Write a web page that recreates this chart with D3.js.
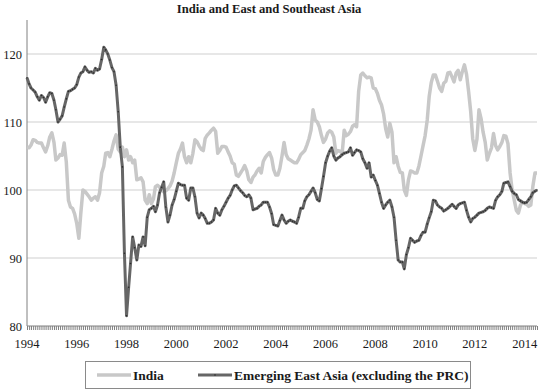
<!DOCTYPE html>
<head>
<style>
body { margin: 0; background: #fff; }
text { font-family: "Liberation Serif", "Times New Roman", serif; fill: #1a1a1a; }
.grid line { stroke: #cfcfcf; stroke-width: 1px; }
.india { fill: none; stroke: #c8c8c8; stroke-width: 3.5px; stroke-linejoin: round; }
.ea { fill: none; stroke: #666; stroke-width: 3px; stroke-linejoin: round; }
</style>
<meta charset="utf-8">
<title></title>
</head>
<body>
<script src="https://cdn.jsdelivr.net/npm/d3@7"></script>
<script>

// monthly index values, Jan 1994 - Jul 2014
var startYear = 1994;

var india = [
  106.3, 106.2, 106.6, 107.4, 107.3, 107.0, 106.9, 106.9, 106.2, 105.6, 106.5, 107.8,
  108.4, 107.0, 104.4, 104.7, 105.2, 105.1, 106.9, 104.1, 98.5, 97.5, 97.3, 96.5,
  95.1, 92.9, 96.6, 100.0, 99.8, 99.4, 99.0, 98.5, 98.8, 99.0, 98.5, 99.6,
  102.5, 103.5, 105.4, 105.5, 104.9, 106.0, 107.2, 108.1, 106.0, 105.6, 106.3, 104.9,
  105.9, 104.4, 104.9, 104.0, 104.4, 101.5, 101.6, 101.8, 101.2, 98.5, 98.0, 99.3,
  98.0, 98.7, 100.5, 100.7, 100.4, 100.1, 99.7, 99.9, 100.2, 100.6, 101.3, 102.5,
  104.0, 105.4, 106.0, 106.9, 104.9, 104.0, 104.9, 104.0, 105.4, 107.4, 107.1, 106.5,
  106.0, 105.8, 107.6, 108.1, 108.4, 108.8, 109.1, 108.6, 105.4, 105.8, 106.4, 106.4,
  106.3, 105.6, 105.0, 104.0, 103.8, 102.2, 102.0, 102.5, 103.0, 103.6, 102.8, 101.5,
  101.1, 101.9, 102.2, 102.8, 103.2, 102.5, 104.2, 104.8, 105.2, 105.5, 104.7, 103.0,
  102.2, 102.2, 103.2, 105.0, 107.0, 105.2, 104.6, 104.4, 104.2, 104.0, 104.0, 104.5,
  105.2, 105.5, 105.8, 106.6, 107.5, 108.8, 111.8, 110.3, 110.0, 109.3, 108.0, 107.0,
  107.5, 108.4, 108.7, 108.5, 107.8, 105.4, 105.8, 105.7, 105.4, 108.8, 108.0, 108.2,
  108.6, 109.4, 109.6, 109.3, 114.5, 116.9, 117.2, 116.8, 116.5, 116.6, 116.5, 115.0,
  114.9, 114.2, 113.2, 112.5, 111.2, 109.0, 107.8, 109.8, 108.5, 104.0, 104.9, 103.5,
  102.6, 102.5, 100.0, 99.2, 101.5, 102.8, 102.7, 102.5, 102.5, 103.5, 105.0, 106.5,
  108.0, 110.3, 113.7, 115.8, 116.9, 116.9, 116.0, 115.0, 114.5, 115.7, 116.0, 117.2,
  117.3, 116.6, 115.9, 117.2, 117.6, 116.2, 117.4, 118.4, 117.0, 114.5, 111.5, 107.5,
  105.8, 107.5, 111.8, 110.5, 108.5, 107.0, 104.4, 105.4, 106.2, 108.3, 106.5, 105.9,
  106.4, 107.0, 108.0, 107.9, 106.8, 102.5, 100.0, 98.5, 97.0, 96.6, 97.8, 98.2,
  98.0, 97.9, 97.6, 97.8, 100.5, 102.5, 102.5
];

var eastAsia = [
  116.5, 115.6, 115.0, 114.7, 114.4, 113.7, 113.2, 113.9, 113.6, 112.9, 113.7, 114.3,
  114.2, 113.2, 111.8, 110.0, 110.4, 110.9, 112.2, 113.4, 114.5, 114.6, 114.8, 115.0,
  115.5, 116.6, 117.2, 117.4, 118.1, 117.6, 117.3, 117.4, 117.2, 117.9, 117.6, 117.8,
  119.2, 121.0, 120.6, 120.0, 119.1, 118.0, 117.4, 115.4, 111.5, 106.3, 103.4, 90.7,
  81.5, 85.7, 89.2, 93.1, 91.5, 89.7, 91.9, 91.7, 93.1, 91.8, 96.0, 97.1,
  97.3, 97.6, 96.8, 97.8, 99.6, 100.4, 101.2, 97.5, 95.3, 96.3, 97.8, 98.6,
  99.8, 101.0, 100.8, 100.7, 100.7, 98.8, 98.5, 100.3, 100.3, 99.0, 96.6, 95.9,
  96.6, 96.3, 95.8, 95.1, 95.1, 95.3, 95.6, 97.3, 96.6, 96.3, 97.1, 97.6,
  98.2, 98.8, 99.2, 100.0, 100.6, 100.7, 100.3, 99.9, 99.6, 99.2, 99.0, 99.3,
  98.8, 97.1, 97.2, 97.3, 97.6, 97.8, 98.2, 98.2, 98.2, 97.5, 96.5, 94.9,
  94.8, 94.7, 95.5, 96.3, 95.6, 95.1, 95.4, 95.6, 95.4, 95.3, 95.1, 96.0,
  97.3, 97.3, 98.4, 99.0, 99.3, 99.8, 100.3, 99.6, 98.6, 98.4, 100.2, 102.0,
  104.0, 105.0, 105.7, 106.2, 105.0, 104.4, 104.7, 104.9, 105.2, 105.4, 105.5, 105.6,
  106.2, 105.1, 105.5, 105.9, 105.8, 105.6, 104.6, 104.0, 103.2, 104.0, 101.9, 102.2,
  101.4, 100.7, 99.5, 98.2, 97.3, 97.8, 98.2, 98.5, 97.5, 96.0, 92.6, 89.7,
  89.4, 89.4, 88.4, 90.5, 91.5, 92.9, 92.6, 92.3, 92.5, 92.6, 93.3, 93.8,
  93.8, 95.0, 95.9, 96.8, 98.5, 98.4, 97.8, 97.5, 97.3, 96.9, 97.1, 97.3,
  97.6, 97.9, 97.6, 97.3, 97.8, 98.0, 98.1, 98.2, 97.0, 96.0, 95.3, 95.8,
  96.0, 96.3, 96.6, 96.7, 96.8, 97.0, 97.3, 97.5, 97.4, 97.3, 98.5, 99.0,
  99.3, 99.8, 101.0, 101.1, 101.2, 100.5, 99.8, 99.5, 99.3, 98.6, 98.4, 98.2,
  98.1, 98.2, 98.6, 99.0, 99.6, 99.8, 100.0
];

var yTicks = [80, 90, 100, 110, 120];
var gridValues = [90, 100, 110, 120];
var yearTicks = [1994, 1996, 1998, 2000, 2002, 2004, 2006, 2008, 2010, 2012, 2014];
var seriesNames = ["India", "Emerging East Asia (excluding the PRC)"];

var width = 539, height = 391;

var svg = d3.select("body").append("svg")
    .attr("width", width)
    .attr("height", height);

var x = d3.scaleTime()
    .domain([new Date(startYear, 0, 1), new Date(2014, 6, 1)])
    .range([27, 537]);

var y = d3.scaleLinear()
    .domain([80, 125])
    .range([326, 20]);

function dateOf(i) { return new Date(startYear, i, 1); }

// title
svg.append("text")
    .attr("x", 269)
    .attr("y", 13)
    .attr("text-anchor", "middle")
    .style("font-weight", "bold")
    .style("font-size", "12.6px")
    .text("India and East and Southeast Asia");

// gridlines
svg.append("g").attr("class", "grid")
    .selectAll("line")
    .data(gridValues)
    .enter().append("line")
    .attr("x1", 27).attr("x2", 537)
    .attr("y1", function(d) { return y(d); })
    .attr("y2", function(d) { return y(d); });

// y axis
var yAxis = d3.axisLeft(y).tickValues(yTicks).tickSize(0).tickPadding(5);
var gy = svg.append("g").attr("transform", "translate(27,0)").call(yAxis);
gy.select(".domain").attr("stroke", "#808080").attr("d", "M0,20V326");
gy.selectAll("text").style("font-size", "12.5px").attr("fill", "#1a1a1a")
    .attr("font-family", null);

// x axis with monthly ticks
var xAxis = d3.axisBottom(x)
    .ticks(d3.timeMonth.every(1))
    .tickSize(4)
    .tickFormat("");
var gx = svg.append("g").attr("transform", "translate(0,326)").call(xAxis);
gx.select(".domain").attr("stroke", "#808080").attr("d", "M27,0H537");
gx.selectAll(".tick line").attr("stroke", "#808080");

svg.append("g")
    .selectAll("text")
    .data(yearTicks)
    .enter().append("text")
    .attr("x", function(d) { return x(new Date(d, 0, 1)); })
    .attr("y", 348)
    .attr("text-anchor", "middle")
    .style("font-size", "12.5px")
    .text(function(d) { return d; });

// lines
var line = d3.line()
    .x(function(d, i) { return x(dateOf(i)); })
    .y(function(d) { return y(d); });

svg.append("path").datum(india).attr("class", "india").attr("d", line);
svg.append("path").datum(eastAsia).attr("class", "ea").attr("d", line);

svg.append("g")
    .selectAll("circle")
    .data(eastAsia)
    .enter().append("circle")
    .attr("cx", function(d, i) { return x(dateOf(i)); })
    .attr("cy", function(d) { return y(d); })
    .attr("r", 0.8)
    .attr("fill", "#2a2a2a");

// legend
var legend = svg.append("g");
legend.append("rect")
    .attr("x", 85.5).attr("y", 361.5)
    .attr("width", 385).attr("height", 27)
    .attr("fill", "none")
    .attr("stroke", "#8a8a8a");

var legendItems = [
  {name: seriesNames[0], cls: "india", x: 97},
  {name: seriesNames[1], cls: "ea", x: 198}
];
legendItems.forEach(function(d) {
  legend.append("line")
      .attr("class", d.cls)
      .attr("x1", d.x).attr("x2", d.x + 34)
      .attr("y1", 375).attr("y2", 375);
  if (d.cls == "ea") {
    legend.append("circle").attr("cx", d.x + 17).attr("cy", 375).attr("r", 0.8).attr("fill", "#2a2a2a");
  }
  legend.append("text")
      .attr("x", d.x + 36)
      .attr("y", 379.5)
      .style("font-size", "13.5px")
      .style("font-weight", "bold")
      .text(d.name);
});

</script>
</body>
</html>
